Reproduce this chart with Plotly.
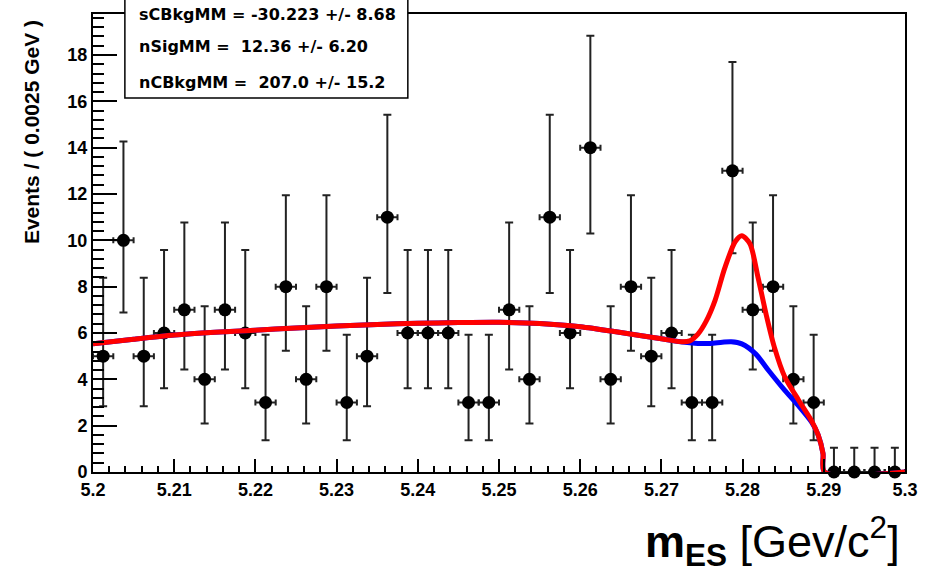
import plotly.graph_objects as go

# Histogram binning for m_ES
x_lo, x_hi = 5.2, 5.3
bin_width = 0.0025
n_bins = 40

# Event counts per bin
counts = [5, 10, 5, 6, 7, 4, 7, 6, 3, 8,
          4, 8, 3, 5, 11, 6, 6, 6, 3, 3,
          7, 4, 11, 6, 14, 4, 8, 5, 6, 3,
          3, 13, 7, 8, 4, 3, 0, 0, 0, 0]

# Asymmetric Poisson (68%) errors: count -> (down, up)
poisson_err = {0: (0.0, 1.05), 3: (1.63, 2.92), 4: (1.91, 3.16), 5: (2.16, 3.38),
               6: (2.38, 3.58), 7: (2.58, 3.77), 8: (2.77, 3.95), 10: (3.11, 4.27),
               11: (3.27, 4.42), 13: (3.56, 4.70), 14: (3.70, 4.83)}

# Total fit (signal + background)
total_m = [5.2000, 5.2050, 5.2100, 5.2150, 5.2200, 5.2250, 5.2300, 5.2350, 5.2400,
           5.2450, 5.2500, 5.2550, 5.2600, 5.2650, 5.2700, 5.2725, 5.2735, 5.2745,
           5.2755, 5.2766, 5.2778, 5.2791, 5.2799, 5.2809, 5.2819, 5.2829, 5.2839,
           5.2852, 5.2869, 5.2885, 5.2893, 5.2899, 5.2901, 5.3000]
total_y = [5.53, 5.73, 5.91, 6.03, 6.12, 6.22, 6.30, 6.37, 6.42,
           6.45, 6.46, 6.41, 6.27, 6.02, 5.75, 5.62, 5.66, 5.95,
           6.50, 7.40, 8.80, 9.95, 10.20, 9.85, 8.40, 6.80, 5.40,
           4.10, 3.10, 2.20, 1.60, 0.80, 0.00, 0.00]

# Background component
bkg_m = [5.2000, 5.2050, 5.2100, 5.2150, 5.2200, 5.2250, 5.2300, 5.2350, 5.2400,
         5.2450, 5.2500, 5.2550, 5.2600, 5.2650, 5.2700, 5.2729, 5.2745, 5.2760,
         5.2775, 5.2786, 5.2799, 5.2816, 5.2832, 5.2852, 5.2869, 5.2885, 5.2893,
         5.2899, 5.2901, 5.3000]
bkg_y = [5.53, 5.73, 5.91, 6.03, 6.12, 6.22, 6.30, 6.37, 6.42,
         6.45, 6.46, 6.41, 6.27, 6.02, 5.75, 5.60, 5.55, 5.55,
         5.60, 5.62, 5.53, 5.10, 4.38, 3.52, 2.85, 2.15, 1.60,
         0.80, 0.00, 0.00]

# Fit results shown in the parameter box
fit_params = ["sCBkgMM = -30.223 +/- 8.68",
              "nSigMM =  12.36 +/- 6.20",
              "nCBkgMM =  207.0 +/- 15.2"]

y_title = "Events / ( 0.0025 GeV )"
x_title = "<b>m<sub>ES</sub></b> [Gev/c<sup>2</sup>]"

centers = [x_lo + bin_width * (i + 0.5) for i in range(n_bins)]
err_dn = [poisson_err[c][0] for c in counts]
err_up = [poisson_err[c][1] for c in counts]

W, H = 930, 571
ml, mr, mt, mb = 93, 22, 13, 99.4
pw, ph = W - ml - mr, H - mt - mb


def px(xp):
    return (xp - ml) / pw


def py(yp):
    return (H - mb - yp) / ph


fig = go.Figure()

fig.add_trace(go.Scatter(
    x=centers, y=counts, mode="markers",
    marker=dict(color="black", size=13),
    error_x=dict(type="constant", value=bin_width / 2, color="#222",
                 thickness=2, width=3),
    error_y=dict(type="data", symmetric=False, array=err_up, arrayminus=err_dn,
                 color="#222", thickness=2, width=4),
    cliponaxis=False, showlegend=False, hoverinfo="skip"))

fig.add_trace(go.Scatter(
    x=bkg_m, y=bkg_y, mode="lines",
    line=dict(color="#0000ff", width=5, shape="spline", smoothing=0.8),
    cliponaxis=False, showlegend=False, hoverinfo="skip"))

fig.add_trace(go.Scatter(
    x=total_m, y=total_y, mode="lines",
    line=dict(color="#ff0000", width=5, shape="spline", smoothing=0.8),
    cliponaxis=False, showlegend=False, hoverinfo="skip"))

tick_font = dict(family="Liberation Sans", size=18, color="black", weight="bold")

fig.update_xaxes(
    range=[x_lo, x_hi], tick0=5.2, dtick=0.01, ticks="inside", ticklen=13,
    tickwidth=2, tickcolor="black", showline=True, linewidth=2, linecolor="black",
    mirror=True, showgrid=False, zeroline=False, tickfont=tick_font,
    minor=dict(dtick=0.002, ticks="inside", ticklen=6, tickwidth=2,
               tickcolor="black", showgrid=False))

fig.update_yaxes(
    range=[0, 19.77], tick0=0, dtick=2, ticks="inside", ticklen=24,
    tickwidth=2, tickcolor="black", showline=True, linewidth=2, linecolor="black",
    mirror=True, showgrid=False, zeroline=False, tickfont=tick_font,
    minor=dict(dtick=0.4, ticks="inside", ticklen=11, tickwidth=2,
               tickcolor="black", showgrid=False))

# Parameter box
fig.add_shape(type="rect", xref="paper", yref="paper",
              x0=px(125), x1=px(409), y0=py(97), y1=py(-20),
              fillcolor="white", line=dict(color="black", width=1.5),
              layer="above")

for txt, yc in zip(fit_params, [14, 46, 82]):
    fig.add_annotation(
        text=txt, xref="paper", yref="paper", x=px(137), y=py(yc),
        xanchor="left", yanchor="middle", showarrow=False,
        font=dict(family="DejaVu Sans", size=16, color="black", weight="bold"))

fig.add_annotation(
    text=y_title, xref="paper", yref="paper", x=px(32), y=py(131),
    xanchor="center", yanchor="middle", textangle=-90, showarrow=False,
    font=dict(family="Liberation Sans", size=21, color="black", weight="bold"))

fig.add_annotation(
    text=x_title, xref="paper", yref="paper", x=px(905), y=py(541),
    xanchor="right", yanchor="middle", showarrow=False,
    font=dict(family="Liberation Sans", size=45, color="black"))

fig.update_layout(
    width=W, height=H,
    margin=dict(l=ml, r=mr, t=mt, b=mb, pad=0),
    paper_bgcolor="white", plot_bgcolor="white",
    showlegend=False)

fig.write_html("out.html")
